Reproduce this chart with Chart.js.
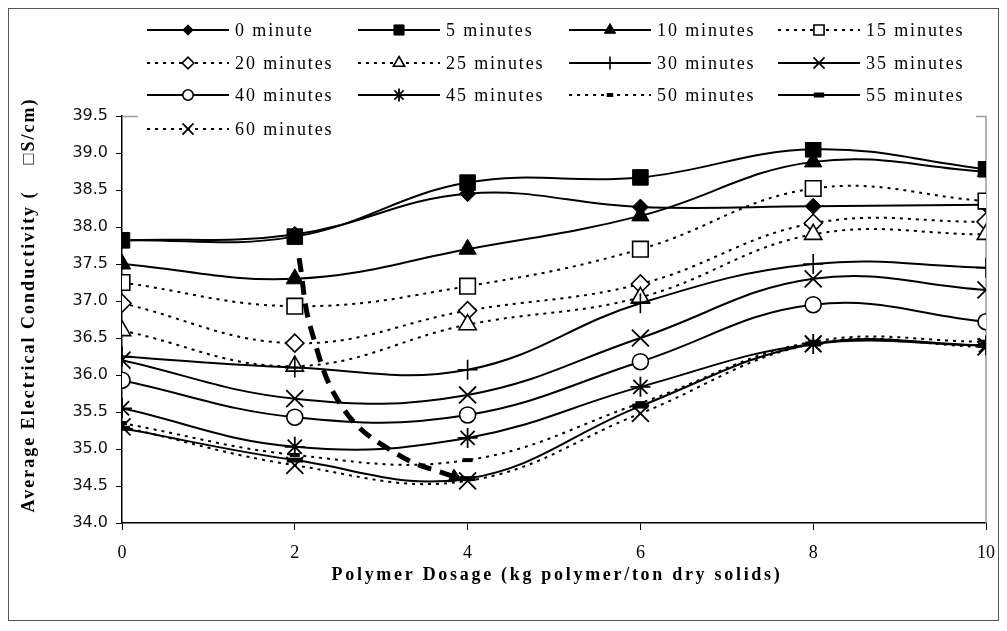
<!DOCTYPE html>
<html>
<head>
<meta charset="utf-8">
<script src="https://cdn.jsdelivr.net/npm/chart.js@4/dist/chart.umd.min.js"></script>
<style>
  html, body { margin: 0; padding: 0; background: #fff; }
  #wrap { width: 1007px; height: 631px; }
</style>
</head>
<body>
<div id="wrap"><canvas id="chart" width="1007" height="631"></canvas></div>
<script>
// polymer dosage (x) and tick values
const dosage = [0, 2, 4, 6, 8, 10];
const yTicks = [34.0, 34.5, 35.0, 35.5, 36.0, 36.5, 37.0, 37.5, 38.0, 38.5, 39.0, 39.5];

// average conductivity per settling time
const min0  = [37.82, 37.90, 38.45, 38.27, 38.28, 38.30];
const min5  = [37.82, 37.87, 38.60, 38.67, 39.05, 38.78];
const min10 = [37.50, 37.30, 37.70, 38.15, 38.88, 38.75];
const min15 = [37.25, 36.93, 37.20, 37.70, 38.52, 38.35];
const min20 = [36.97, 36.43, 36.87, 37.23, 38.05, 38.07];
const min25 = [36.60, 36.12, 36.68, 37.05, 37.90, 37.90];
const min30 = [36.25, 36.10, 36.07, 36.97, 37.50, 37.45];
const min35 = [36.20, 35.68, 35.73, 36.50, 37.30, 37.15];
const min40 = [35.93, 35.43, 35.46, 36.18, 36.95, 36.72];
const min45 = [35.55, 35.03, 35.15, 35.84, 36.42, 36.40];
const min50 = [35.35, 34.92, 34.85, 35.62, 36.45, 36.45];
const min55 = [35.28, 34.85, 34.60, 35.58, 36.42, 36.40];
const min60 = [35.30, 34.78, 34.57, 35.48, 36.42, 36.38];

const seriesNames = ["0 minute", "5 minutes", "10 minutes", "15 minutes", "20 minutes", "25 minutes",
  "30 minutes", "35 minutes", "40 minutes", "45 minutes", "50 minutes", "55 minutes", "60 minutes"];
const seriesValues = [min0, min5, min10, min15, min20, min25, min30, min35, min40, min45, min50, min55, min60];

// hand drawn arrow in the original figure
const arrowX = [2.05, 2.19, 2.57, 3.2, 3.85];
const arrowY = [37.58, 36.61, 35.53, 34.92, 34.62];

// marker look per series: [pointStyle, radius, filled, dotted, borderWidth]
const looks = [
  ["rectRot", 8, true, false, 1],
  ["rect", 11, true, false, 1],
  ["triangle", 10, true, false, 1],
  ["rect", 11, false, true, 1.6],
  ["rectRot", 9, false, true, 1.6],
  ["triangle", 10, false, true, 1.6],
  ["cross", 10, false, false, 1.6],
  ["crossRot", 12, false, false, 1.8],
  ["circle", 8, false, false, 1.6],
  ["star", 10, false, false, 1.8],
  ["line", 5, true, true, 4],
  ["line", 8, true, false, 5],
  ["crossRot", 12, false, true, 1.8]
];

const datasets = seriesNames.map((name, i) => {
  const [style, r, filled, dotted, bw] = looks[i];
  return {
    label: name,
    data: dosage.map((x, k) => ({ x: x, y: seriesValues[i][k] })),
    borderColor: "#000",
    borderWidth: 2,
    borderDash: dotted ? [3, 5] : [],
    tension: 0.4,
    pointStyle: style,
    pointRadius: r,
    pointHoverRadius: r,
    pointBorderWidth: bw,
    pointBorderColor: "#000",
    pointBackgroundColor: filled ? "#000" : "#fff",
    order: 20 - i
  };
});

datasets.push({
  label: "arrow",
  data: arrowX.map((x, k) => ({ x: x, y: arrowY[k] })),
  borderColor: "#000",
  borderWidth: 5,
  borderDash: [14, 9],
  tension: 0.4,
  pointStyle: "triangle",
  pointRadius: arrowX.map((x, k) => k === arrowX.length - 1 ? 8 : 0),
  pointRotation: 114,
  pointBackgroundColor: "#000",
  pointBorderColor: "#000",
  pointBorderWidth: 1,
  order: -1
});

// frame, legend box and axis titles
const extras = {
  id: "extras",
  beforeDatasetsDraw(chart) {
    const { ctx, chartArea: a } = chart;
    ctx.save();
    ctx.strokeStyle = "#9a9a9a";
    ctx.lineWidth = 1.5;
    ctx.beginPath();
    ctx.moveTo(a.left, a.top + 0.5);
    ctx.lineTo(a.right, a.top + 0.5);
    ctx.lineTo(a.right, a.bottom);
    ctx.stroke();
    ctx.restore();
  },
  afterDraw(chart) {
    const ctx = chart.ctx;
    ctx.save();
    // outer frame
    ctx.strokeStyle = "#555";
    ctx.lineWidth = 1;
    ctx.strokeRect(8.5, 8.5, 990, 612);

    // legend
    ctx.fillStyle = "#fff";
    ctx.fillRect(138, 14, 838, 128);
    const colX = [147, 358, 569, 778];
    const rowY = [30, 63, 95, 129];
    ctx.font = '18px "Liberation Serif"';
    ctx.letterSpacing = "1.9px";
    ctx.textBaseline = "middle";
    seriesNames.forEach((name, i) => {
      const [style, r, filled, dotted, bw] = looks[i];
      const x = colX[i % 4], y = rowY[Math.floor(i / 4)];
      ctx.strokeStyle = "#000";
      ctx.lineWidth = 2;
      ctx.setLineDash(dotted ? [3, 5] : []);
      ctx.beginPath();
      ctx.moveTo(x, y);
      ctx.lineTo(x + 82, y);
      ctx.stroke();
      ctx.setLineDash([]);
      ctx.fillStyle = filled ? "#000" : "#fff";
      ctx.lineWidth = bw;
      Chart.helpers.drawPoint(ctx, { pointStyle: style, radius: r * 0.65, borderWidth: bw, rotation: 0 }, x + 41, y);
      ctx.fillStyle = "#000";
      ctx.fillText(name, x + 88, y + 1);
    });

    // axis titles
    ctx.font = 'bold 18px "Liberation Serif"';
    ctx.textAlign = "center";
    ctx.letterSpacing = "2.7px";
    ctx.fillText("Polymer Dosage (kg polymer/ton dry solids)", 557, 575);
    ctx.letterSpacing = "2px";
    ctx.translate(29, 305);
    ctx.rotate(-Math.PI / 2);
    ctx.fillText("Average Electrical Conductivity (    \u25A1S/cm)", 0, 0);
    ctx.restore();
  }
};

new Chart(document.getElementById("chart"), {
  type: "line",
  data: { datasets },
  options: {
    responsive: false,
    animation: false,
    events: [],
    layout: { padding: { left: 0, top: 116, right: 17, bottom: 0 } },
    plugins: { legend: { display: false }, tooltip: { enabled: false } },
    scales: {
      x: {
        type: "linear",
        min: 0, max: 10,
        afterFit: s => { s.height = 108; },
        afterBuildTicks: s => { s.ticks = dosage.map(v => ({ value: v })); },
        ticks: { color: "#000", padding: 12, font: { family: "Liberation Serif", size: 18 } },
        grid: { drawOnChartArea: false, tickLength: 7, tickColor: "#000" },
        border: { color: "#000", width: 1.5 }
      },
      y: {
        min: 34, max: 39.5,
        afterFit: s => { s.width = 122; },
        afterBuildTicks: s => { s.ticks = yTicks.map(v => ({ value: v })); },
        ticks: { color: "#111", padding: 8, font: { family: "DejaVu Sans", size: 16 }, callback: v => v.toFixed(1) },
        grid: { drawOnChartArea: false, tickLength: 6, tickColor: "#000" },
        border: { color: "#000", width: 1.5 }
      }
    }
  },
  plugins: [extras]
});
</script>
</body>
</html>
